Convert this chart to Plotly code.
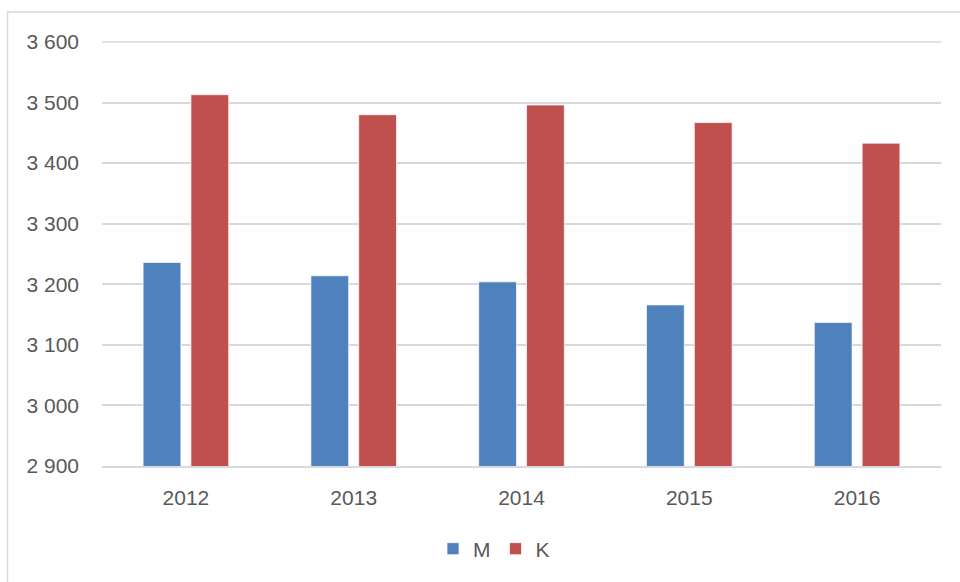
import plotly.graph_objects as go

years = ["2012", "2013", "2014", "2015", "2016"]
m_values = [3236, 3214, 3204, 3166, 3137]
k_values = [3513, 3480, 3496, 3467, 3433]
y_ticks = [2900, 3000, 3100, 3200, 3300, 3400, 3500, 3600]

W, H = 960, 582
L, R, T, B = 102, 19, 42, 116
pw, ph = W - L - R, H - T - B

font = dict(family="Liberation Sans, Arial, sans-serif", size=21, color="#595959")

fig = go.Figure()
fig.add_trace(go.Bar(name="M", x=years, y=m_values, marker=dict(color="#4F81BD", line=dict(color="rgba(255,255,255,0.7)", width=1))))
fig.add_trace(go.Bar(name="K", x=years, y=k_values, marker=dict(color="#C0504D", line=dict(color="rgba(255,255,255,0.7)", width=1))))

def px_x(x):
    return (x - L) / pw

def px_y(y):
    return (H - B - y) / ph

fig.update_layout(
    width=W, height=H,
    margin=dict(l=L, r=R, t=T, b=B, pad=0),
    paper_bgcolor="white", plot_bgcolor="white",
    barmode="group", bargap=0.43, bargroupgap=0.21,
    separators=", ",
    font=font,
    showlegend=True,
    legend=dict(orientation="h", x=px_x(494), xanchor="center", y=px_y(549), yanchor="middle",
                font=font, itemwidth=30, tracegroupgap=0),
    xaxis=dict(showgrid=False, showline=True, linecolor="#D9D9D9", linewidth=1.5,
               ticks="", tickfont=font, ticklabelstandoff=12),
    yaxis=dict(range=[y_ticks[0], y_ticks[-1]], tickvals=y_ticks, tickformat=",d",
               showgrid=True, gridcolor="#D9D9D9", gridwidth=1.5,
               showline=False, zeroline=False, ticks="", tickfont=font,
               ticklabelstandoff=22),
    shapes=[
        dict(type="line", xref="paper", yref="paper", x0=0, x1=1, y0=1, y1=1,
             line=dict(color="#D9D9D9", width=1.5), layer="above"),
        dict(type="rect", xref="paper", yref="paper",
             x0=px_x(7.5), x1=px_x(975), y0=px_y(600), y1=px_y(12),
             line=dict(color="#D9D9D9", width=1.5), fillcolor="rgba(0,0,0,0)", layer="below"),
    ],
)

fig.write_html("out.html", config={"displayModeBar": False},
               post_script="document.body.style.margin='0';document.body.style.overflow='hidden';")
